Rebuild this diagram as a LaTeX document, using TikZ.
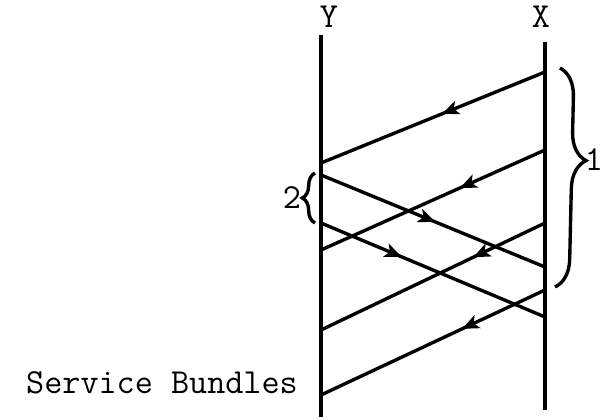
\documentclass[tikz,border=0pt]{standalone}
\usepackage{fontspec}
\usetikzlibrary{arrows.meta,decorations.markings,decorations.pathreplacing}

\begin{document}
\begin{tikzpicture}[
    x=0.025cm, y=-0.025cm,
    >=Stealth,
    line width=2.6pt,
    axislabel/.style={font=\ttfamily\fontsize{25}{27}\selectfont, inner sep=0pt},
    bundle/.style={line width=2.4pt, decoration={markings, mark=at position #1 with {\arrow{Stealth[length=12pt, width=10pt, inset=3pt]}}}, postaction={decorate}},
    bundlebrace/.style={decorate, line width=2.4pt, decoration={brace, amplitude=#1}}
]
\useasboundingbox (0,0) rectangle (601,419);

% stations
\node[axislabel] (ylabel) at (329,17) {Y};
\node[axislabel] (xlabel) at (541,17) {X};
\coordinate (ytop) at (321,35);
\coordinate (ybot) at (321,417);
\coordinate (xtop) at (545,42);
\coordinate (xbot) at (545,410);
\draw (ytop) -- (ybot);
\draw (xtop) -- (xbot);

% events on X
\coordinate (xa) at (545,72);
\coordinate (xb) at (545,150);
\coordinate (xc) at (545,223);
\coordinate (xd) at (545,267);
\coordinate (xe) at (545,290);
\coordinate (xf) at (545,317);
% events on Y
\coordinate (ya) at (321,163);
\coordinate (yb) at (321,175);
\coordinate (yc) at (321,223);
\coordinate (yd) at (321,250);
\coordinate (ye) at (321,330);
\coordinate (yf) at (321,395);

% messages
\draw[bundle=0.46] (xa) -- (ya);
\draw[bundle=0.38] (xb) -- (yd);
\draw[bundle=0.51] (yb) -- (xd);
\draw[bundle=0.36] (yc) -- (xf);
\draw[bundle=0.32] (xc) -- (ye);
\draw[bundle=0.37] (xe) -- (yf);

% braces
\draw[bundlebrace=20, decoration={aspect=0.42}] (560,68) -- (555,287);
\node[axislabel] (onelabel) at (594,160) {1};
\draw[bundlebrace=9] (315,223) -- (315,173);
\node[axislabel] (twolabel) at (292,198) {2};

\node[axislabel] (servicelabel) at (162,383) {Service Bundles};
\end{tikzpicture}
\end{document}
